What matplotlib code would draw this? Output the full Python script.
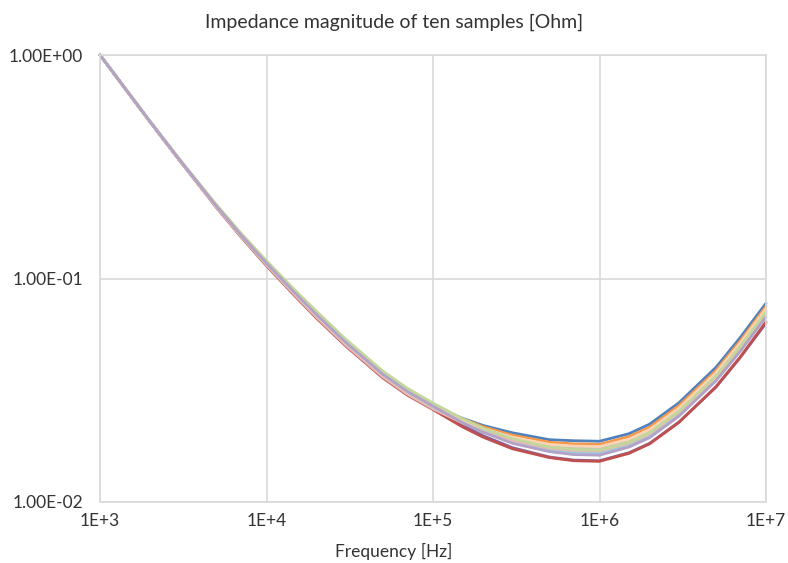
#!/usr/bin/env python3
"""Impedance magnitude of ten samples, log-log plot in the Excel look."""

import matplotlib

matplotlib.use("Agg")
import matplotlib.pyplot as plt
from matplotlib.ticker import FixedLocator, FixedFormatter, NullLocator

plt.rcParams["font.family"] = ["Lato", "DejaVu Sans"]

FREQ = [1e3, 2e3, 3e3, 5e3, 7e3, 1e4, 1.5e4, 2e4, 3e4, 5e4, 7e4, 1e5,
        1.5e5, 2e5, 3e5, 5e5, 7e5, 1e6, 1.5e6, 2e6, 3e6, 5e6, 7e6, 1e7]

BLUE = [1.000, 0.503, 0.340, 0.211, 0.157, 0.117, 0.0853, 0.0688, 0.0516, 0.0372, 0.0312, 0.0268,
        0.0237, 0.0220, 0.0204, 0.0190, 0.0188, 0.0187, 0.0202, 0.0223, 0.0278, 0.0400, 0.0544, 0.0775]
ORANGE = [1.000, 0.503, 0.341, 0.212, 0.158, 0.118, 0.0860, 0.0695, 0.0521, 0.0376, 0.0315, 0.0271,
          0.0236, 0.0217, 0.0199, 0.0185, 0.0182, 0.0181, 0.0196, 0.0216, 0.0270, 0.0387, 0.0526, 0.0750]
GRAY = [1.000, 0.502, 0.339, 0.210, 0.156, 0.116, 0.0846, 0.0681, 0.0511, 0.0368, 0.0309, 0.0265,
        0.0230, 0.0211, 0.0193, 0.0179, 0.0175, 0.0174, 0.0188, 0.0208, 0.0260, 0.0373, 0.0507, 0.0722]
PINK = [1.000, 0.502, 0.338, 0.209, 0.155, 0.115, 0.0835, 0.0671, 0.0503, 0.0363, 0.0304, 0.0261,
        0.0226, 0.0206, 0.0188, 0.0174, 0.0170, 0.0169, 0.0183, 0.0202, 0.0252, 0.0362, 0.0492, 0.0701]
AQUA = [1.000, 0.503, 0.340, 0.211, 0.157, 0.117, 0.0856, 0.0691, 0.0519, 0.0374, 0.0314, 0.0269,
        0.0229, 0.0207, 0.0186, 0.0171, 0.0167, 0.0166, 0.0179, 0.0198, 0.0247, 0.0355, 0.0482, 0.0687]
GREEN = [1.000, 0.505, 0.342, 0.214, 0.160, 0.120, 0.0879, 0.0712, 0.0534, 0.0385, 0.0323, 0.0277,
         0.0236, 0.0214, 0.0192, 0.0176, 0.0172, 0.0171, 0.0185, 0.0204, 0.0255, 0.0366, 0.0497, 0.0708]
LAVENDER = [1.000, 0.503, 0.340, 0.211, 0.157, 0.117, 0.0853, 0.0688, 0.0516, 0.0372, 0.0312, 0.0268,
            0.0227, 0.0205, 0.0183, 0.0168, 0.0163, 0.0162, 0.0176, 0.0194, 0.0242, 0.0348, 0.0472, 0.0673]
PEACH = [1.000, 0.503, 0.340, 0.211, 0.157, 0.117, 0.0850, 0.0685, 0.0513, 0.0370, 0.0310, 0.0267,
         0.0232, 0.0213, 0.0195, 0.0181, 0.0178, 0.0177, 0.0191, 0.0211, 0.0263, 0.0378, 0.0514, 0.0733]
RED = [1.000, 0.501, 0.338, 0.208, 0.154, 0.114, 0.0827, 0.0664, 0.0498, 0.0359, 0.0301, 0.0259,
       0.0217, 0.0195, 0.0173, 0.0158, 0.0153, 0.0152, 0.0165, 0.0182, 0.0227, 0.0328, 0.0445, 0.0640]
PURPLE = [1.000, 0.502, 0.339, 0.210, 0.156, 0.116, 0.0842, 0.0678, 0.0508, 0.0366, 0.0307, 0.0264,
          0.0221, 0.0198, 0.0175, 0.0159, 0.0154, 0.0153, 0.0166, 0.0183, 0.0228, 0.0326, 0.0443, 0.0631]

# drawing order: later lines sit on top
SERIES = [BLUE, ORANGE, PURPLE, RED, AQUA, PINK, GRAY, PEACH, GREEN, LAVENDER]
COLORS = ["#4F81BD", "#F79646", "#8064A2", "#C0504D", "#93CDDD",
          "#E6B9B8", "#BFBFBF", "#FCD5B5", "#C3D69B", "#B3A2C7"]

X_TICKS = [1e3, 1e4, 1e5, 1e6, 1e7]
X_LABELS = ["1E+3", "1E+4", "1E+5", "1E+6", "1E+7"]
Y_TICKS = [1e-2, 1e-1, 1e0]
Y_LABELS = ["1.00E-02", "1.00E-01", "1.00E+00"]

TEXT = "#333333"
GRID = "#D9D9D9"

fig = plt.figure(figsize=(7.88, 5.63), dpi=100)
ax = fig.add_axes([100 / 788, 61 / 563, 666 / 788, 447 / 563])

for values, color in zip(SERIES, COLORS):
    ax.plot(FREQ, values, color=color, lw=2.0, solid_capstyle="round", clip_on=False)

ax.set_xscale("log")
ax.set_yscale("log")
ax.set_xlim(1e3, 1e7)
ax.set_ylim(1e-2, 1e0)
ax.xaxis.set_major_locator(FixedLocator(X_TICKS))
ax.xaxis.set_major_formatter(FixedFormatter(X_LABELS))
ax.yaxis.set_major_locator(FixedLocator(Y_TICKS))
ax.yaxis.set_major_formatter(FixedFormatter(Y_LABELS))
ax.xaxis.set_minor_locator(NullLocator())
ax.yaxis.set_minor_locator(NullLocator())
ax.tick_params(length=0, labelsize=12.5, labelcolor=TEXT)
ax.tick_params(axis="x", pad=8)
ax.tick_params(axis="y", pad=12)

ax.grid(True, color=GRID, linewidth=1.2)
ax.set_axisbelow(True)
for spine in ax.spines.values():
    spine.set_color(GRID)
    spine.set_linewidth(1.2)

fig.text(0.5, 1 - 551 / 563, "Frequency [Hz]", ha="center", va="center",
         fontsize=12.5, color=TEXT)
fig.text(0.5, 1 - 22 / 563, "Impedance magnitude of ten samples [Ohm]",
         ha="center", va="center", fontsize=14, color=TEXT)

fig.savefig("out.png", dpi=100)
